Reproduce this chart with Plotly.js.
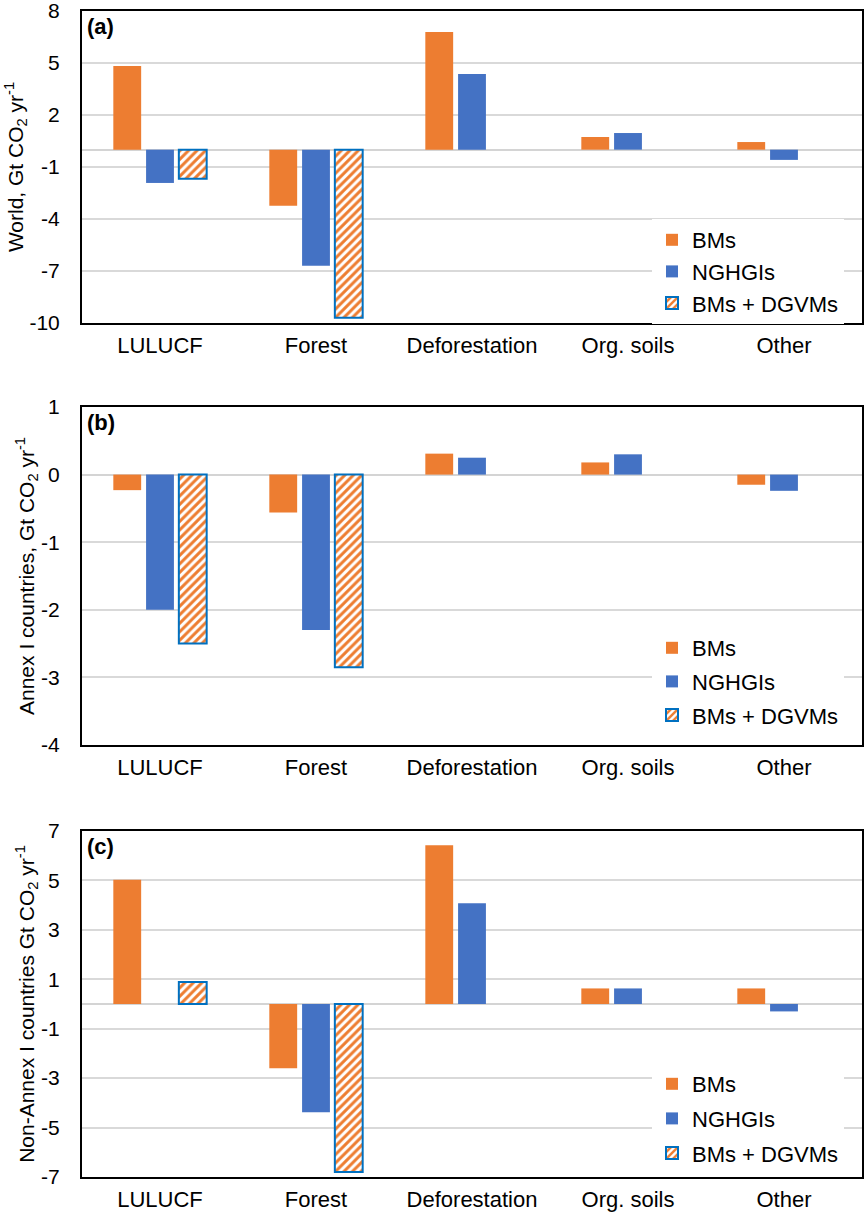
<!DOCTYPE html>
<html>
<head>
<meta charset="utf-8">
<script src="https://cdn.plot.ly/plotly-3.0.1.min.js"></script>
<style>html,body{margin:0;padding:0;background:#fff;}</style>
</head>
<body>
<div id="chart" style="width:867px;height:1213px;"></div>
<script>
const categories = ["LULUCF", "Forest", "Deforestation", "Org. soils", "Other"];
const seriesNames = ["BMs", "NGHGIs", "BMs + DGVMs"];

// Panel (a) World
const worldBMs    = [4.83, -3.23, 6.79, 0.73, 0.44];
const worldNGHGI  = [-1.92, -6.69, 4.37, 0.96, -0.59];
const worldDGVM   = [-1.68, -9.69, null, null, null];
const worldTicks  = [-10, -7, -4, -1, 2, 5, 8];
const worldTickText = ["-10", "-7", "-4", "-1", "2", "5", "8"];

// Panel (b) Annex I countries
const annexBMs    = [-0.23, -0.56, 0.31, 0.18, -0.15];
const annexNGHGI  = [-2.0, -2.3, 0.25, 0.3, -0.24];
const annexDGVM   = [-2.5, -2.85, null, null, null];
const annexTicks  = [-4, -3, -2, -1, 0, 1];
const annexTickText = ["-4", "-3", "-2", "-1", "0", "1"];

// Panel (c) Non-Annex I countries
const nonAnnexBMs   = [5.03, -2.6, 6.42, 0.63, 0.63];
const nonAnnexNGHGI = [0.0, -4.38, 4.08, 0.63, -0.3];
const nonAnnexDGVM  = [0.89, -6.8, null, null, null];
const nonAnnexTicks = [-7, -5, -3, -1, 1, 3, 5, 7];
const nonAnnexTickText = ["-7", "-5", "-3", "-1", "1", "3", "5", "7"];

const panels = [
  {label: "(a)", title: "World, Gt CO<sub>2</sub> yr<sup>-1</sup>", data: [worldBMs, worldNGHGI, worldDGVM],
   range: [-10, 8], tv: worldTicks, tt: worldTickText, top: 11, bottom: 323, legTop: 219, legGap: 0},
  {label: "(b)", title: "Annex I countries, Gt CO<sub>2</sub> yr<sup>-1</sup>", data: [annexBMs, annexNGHGI, annexDGVM],
   range: [-4, 1], tv: annexTicks, tt: annexTickText, top: 407, bottom: 745, legTop: 627, legGap: 2},
  {label: "(c)", title: "Non-Annex I countries Gt CO<sub>2</sub> yr<sup>-1</sup>", data: [nonAnnexBMs, nonAnnexNGHGI, nonAnnexDGVM],
   range: [-7, 7], tv: nonAnnexTicks, tt: nonAnnexTickText, top: 831, bottom: 1177, legTop: 1063, legGap: 3}
];

const H = 1213;
const ORANGE = "#ED7D31", BLUE = "#4472C4", EDGE = "#0070C0";
const FONT = "Liberation Sans, Arial, Helvetica, sans-serif";

const traces = [];
const layout = {
  width: 867, height: H,
  margin: {l: 82, r: 5, t: 0, b: 0},
  paper_bgcolor: "#fff", plot_bgcolor: "#fff",
  font: {family: FONT, size: 22, color: "#000"},
  barmode: "group", bargap: 0.37, bargroupgap: 0.15,
  showlegend: true,
  annotations: []
};

panels.forEach((p, i) => {
  const n = i === 0 ? "" : String(i + 1);
  const xa = "x" + n, ya = "y" + n;
  const leg = "legend" + n;
  const styles = [
    {marker: {color: ORANGE, line: {width: 0}}},
    {marker: {color: BLUE, line: {width: 0}}},
    {marker: {color: "#fff", line: {color: EDGE, width: 2},
      pattern: {shape: "/", fgcolor: ORANGE, bgcolor: "#fff", size: 6, solidity: 0.5}}}
  ];
  p.data.forEach((vals, k) => {
    traces.push(Object.assign({
      type: "bar", x: categories, y: vals, name: seriesNames[k],
      xaxis: xa, yaxis: ya, legend: leg, legendgroup: "g" + i + "_" + k,
      hoverinfo: "x+y+name"
    }, styles[k]));
  });
  const dom = [1 - p.bottom / H, 1 - p.top / H];
  layout["xaxis" + n] = {
    domain: [0, 1], anchor: ya, type: "category",
    showline: true, mirror: true, linecolor: "#000", linewidth: 2,
    ticks: "", showgrid: false, zeroline: false,
    tickfont: {size: 22, family: FONT}, ticklabelstandoff: 2,
    ticklabeloverflow: "allow", fixedrange: true
  };
  layout["yaxis" + n] = {
    domain: dom, anchor: xa, range: p.range,
    tickmode: "array", tickvals: p.tv, ticktext: p.tt,
    showline: true, mirror: true, linecolor: "#000", linewidth: 2,
    ticks: "", showgrid: true, gridcolor: "#d9d9d9", gridwidth: 2,
    zeroline: true, zerolinecolor: "#d4d4d4", zerolinewidth: 2,
    tickfont: {size: 21, family: FONT}, ticklabelstandoff: 16,
    ticklabeloverflow: "allow",
    title: {text: p.title, font: {size: 21, family: FONT}, standoff: 0},
    automargin: false, fixedrange: true
  };
  layout[leg] = {
    x: (652 - 82) / 780, xanchor: "left",
    y: 1 - p.legTop / H, yanchor: "top",
    xref: "paper", yref: "paper",
    bgcolor: "#fff", borderwidth: 0,
    font: {size: 22, family: FONT},
    traceorder: "grouped", tracegroupgap: p.legGap
  };
  layout.annotations.push({
    text: "<b>" + p.label + "</b>", xref: "paper", yref: "paper",
    x: 0.004, xanchor: "left", y: dom[1] - 1 / H, yanchor: "top",
    showarrow: false, font: {size: 22, family: FONT}
  });
});

Plotly.newPlot("chart", traces, layout, {displayModeBar: false, staticPlot: true});
</script>
</body>
</html>
